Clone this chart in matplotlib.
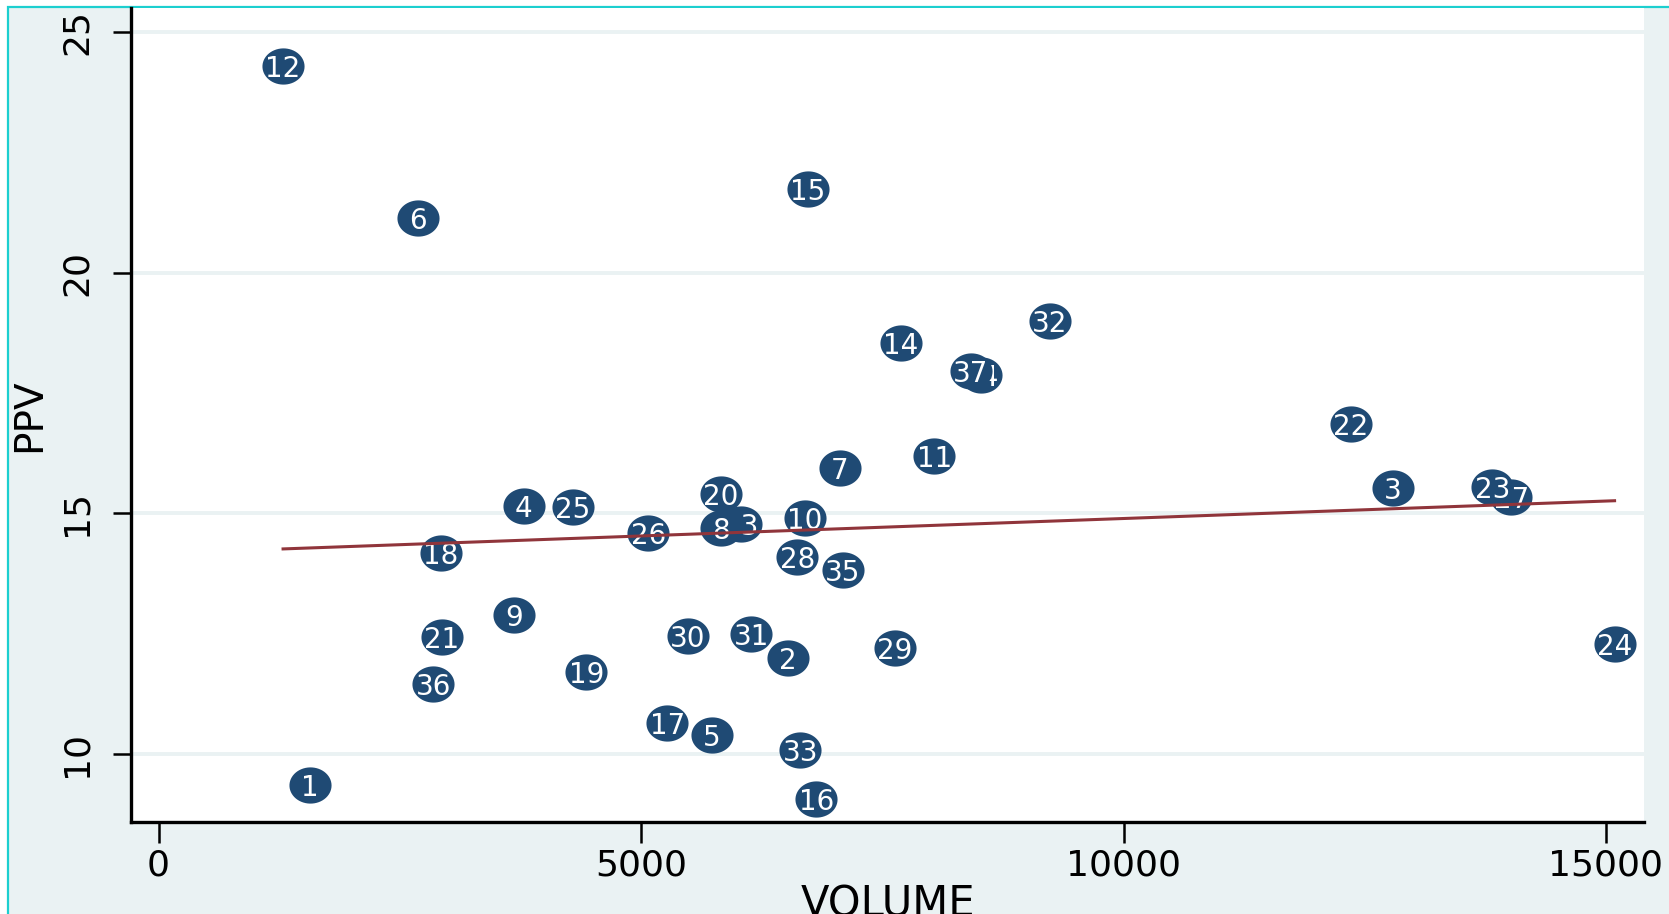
import matplotlib
matplotlib.use("Agg")
import matplotlib.pyplot as plt
import numpy as np
from matplotlib.path import Path
from matplotlib.patches import Rectangle

# DejaVu is a little wider than Arial, which suits the stretched original
plt.rcParams['font.family'] = ['DejaVu Sans']

# observation labels, in the order they were drawn (later ones sit on top)
ids = [1, 2, 3, 4, 5, 6, 7, 9, 10, 11, 12, 13, 8, 14, 15, 16, 17, 18, 19,
       20, 21, 22, 24, 25, 26, 27, 23, 28, 29, 30, 31, 32, 33, 34, 35, 36, 37]
volume = [1566, 6519, 12795, 3783, 5736, 2691, 7059, 3684, 6696, 8041, 1290,
          6034, 5824, 7689, 6729, 6817, 5272, 2923, 4434, 5824, 2934, 12354,
          15089, 4291, 5074, 14020, 13821, 6618, 7633, 5482, 6144, 9233, 6651,
          8527, 7093, 2846, 8417]
ppv = [9.36, 11.99, 15.53, 15.15, 10.40, 21.13, 15.95, 12.90, 14.91, 16.19,
       24.29, 14.78, 14.69, 18.54, 21.75, 9.07, 10.64, 14.18, 11.70, 15.40,
       12.43, 16.86, 12.28, 15.13, 14.60, 15.35, 15.55, 14.09, 12.21, 12.46,
       12.50, 19.00, 10.09, 17.88, 13.83, 11.46, 17.96]

xticks = [0, 5000, 10000, 15000]
yticks = [10, 15, 20, 25]

navy = '#1f4a74'
maroon = '#90353b'
bg = '#eaf2f3'

fig = plt.figure(figsize=(16.69, 9.14), dpi=100, facecolor='white')

# stata-ish outer region plus the cyan frame of the screenshot
W, H = 1669, 914
fig.add_artist(Rectangle((8 / W, -0.05), 1.1, (H - 7) / H + 0.05,
                         transform=fig.transFigure, facecolor=bg,
                         edgecolor='#1ccfcf', linewidth=1.6, zorder=0))

ax = fig.add_axes([131 / W, 92 / H, (1644 - 131) / W, (822 - 8) / H])
ax.set_facecolor('white')

# ellipse marker, a bit wider than tall
t = np.linspace(0, 2 * np.pi, 60)
ell = Path(np.column_stack([np.cos(t), 0.86 * np.sin(t)]), closed=True)

for i, (lab, x, y) in enumerate(zip(ids, volume, ppv)):
    ax.scatter([x], [y], s=920, marker=ell, color=navy, linewidths=0,
               zorder=3 + 2 * i)
    ax.text(x, y, str(lab), color='white', fontsize=20, ha='center',
            va='center_baseline', zorder=4 + 2 * i)

# linear fit line
b, a = np.polyfit(volume, ppv, 1)
xs = np.array([min(volume), max(volume)])
ax.plot(xs, a + b * xs, color=maroon, linewidth=2.2, zorder=200)

ax.set_xlim(-286, 15394)
ax.set_ylim(8.59, 25.5)
ax.set_xticks(xticks)
ax.set_yticks(yticks)
ax.set_xticklabels([str(v) for v in xticks], fontsize=26)
ax.set_yticklabels([str(v) for v in yticks], fontsize=26, rotation=90,
                   va='center')
ax.tick_params(axis='x', length=15, width=1.8, pad=4)
ax.tick_params(axis='y', length=13, width=1.8, pad=14)

ax.grid(axis='y', color=bg, linewidth=2.8, zorder=1)
ax.set_axisbelow(True)

for s in ['top', 'right']:
    ax.spines[s].set_visible(False)
for s in ['left', 'bottom']:
    ax.spines[s].set_linewidth(2.4)

ax.set_xlabel('VOLUME', fontsize=30)
ax.set_ylabel('PPV', fontsize=28)
ax.xaxis.set_label_coords(0.5, -0.075)
ax.yaxis.set_label_coords(-0.055, 0.5)

fig.savefig('out.png', dpi=100, facecolor=fig.get_facecolor())
